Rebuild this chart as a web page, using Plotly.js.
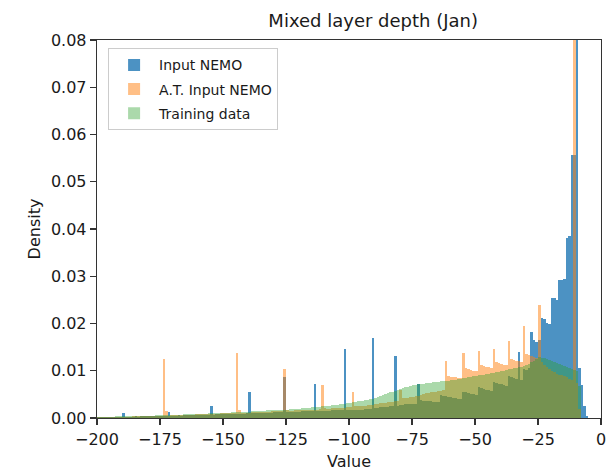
<!DOCTYPE html>
<html>
<head>
<meta charset="utf-8">
<script src="https://cdn.plot.ly/plotly-3.0.1.min.js"></script>
<style>
  html, body { margin: 0; padding: 0; background: #fff; }
  #chart { width: 606px; height: 473px; }
</style>
</head>
<body>
<div id="chart"></div>
<script>
// Histogram bins: width 1, left edges from -200 up to -1
const binStart = -200;
const binWidth = 1;

const seriesNames = ["Input NEMO", "A.T. Input NEMO", "Training data"];

// Density per bin, Input NEMO
const inputNemo = [
  0.0002,0.0002,0.0002,0.0002,0.0003,0.0002,0.0003,0.0003,0.0003,0.0003,
  0.0010,0.0003,0.0003,0.0003,0.0003,0.0004,0.0003,0.0004,0.0004,0.0004,
  0.0004,0.0004,0.0004,0.0005,0.0004,0.0005,0.0005,0.0005,0.0013,0.0005,
  0.0005,0.0005,0.0006,0.0005,0.0006,0.0006,0.0006,0.0006,0.0006,0.0007,
  0.0007,0.0007,0.0007,0.0007,0.0007,0.0025,0.0007,0.0008,0.0008,0.0008,
  0.0008,0.0008,0.0008,0.0009,0.0009,0.0009,0.0009,0.0009,0.0009,0.0010,
  0.0054,0.0010,0.0010,0.0010,0.0010,0.0011,0.0011,0.0011,0.0011,0.0011,
  0.0012,0.0012,0.0012,0.0012,0.0087,0.0012,0.0013,0.0013,0.0013,0.0013,
  0.0013,0.0014,0.0014,0.0014,0.0014,0.0014,0.0071,0.0014,0.0015,0.0015,
  0.0015,0.0015,0.0015,0.0016,0.0016,0.0016,0.0016,0.0016,0.0147,0.0017,
  0.0017,0.0017,0.0018,0.0018,0.0018,0.0018,0.0019,0.0019,0.0019,0.0169,
  0.0022,0.0022,0.0023,0.0023,0.0024,0.0024,0.0025,0.0025,0.0132,0.0026,
  0.0028,0.0028,0.0029,0.0029,0.0030,0.0030,0.0030,0.0073,0.0038,0.0037,
  0.0036,0.0036,0.0035,0.0034,0.0034,0.0033,0.0048,0.0047,0.0046,0.0045,
  0.0044,0.0043,0.0042,0.0041,0.0040,0.0056,0.0054,0.0052,0.0051,0.0050,
  0.0049,0.0066,0.0064,0.0062,0.0060,0.0059,0.0058,0.0077,0.0075,0.0073,
  0.0071,0.0070,0.0068,0.0088,0.0086,0.0084,0.0082,0.0140,0.0080,0.0103,
  0.0102,0.0105,0.0183,0.0165,0.0160,0.0165,0.0212,0.0210,0.0201,0.0200,
  0.0254,0.0254,0.0250,0.0292,0.0292,0.0295,0.0380,0.0385,0.0557,0.0557,
  0.1000,0.0106,0.0070,0.0025,0.0004,0,0,0,0,0
];

// Density per bin, A.T. Input NEMO
const atInputNemo = [
  0.0002,0.0002,0.0002,0.0002,0.0002,0.0003,0.0003,0.0003,0.0003,0.0003,
  0.0003,0.0003,0.0003,0.0003,0.0004,0.0004,0.0004,0.0004,0.0004,0.0004,
  0.0004,0.0005,0.0005,0.0005,0.0005,0.0005,0.0125,0.0015,0.0005,0.0006,
  0.0006,0.0006,0.0006,0.0006,0.0007,0.0007,0.0007,0.0007,0.0007,0.0008,
  0.0008,0.0008,0.0008,0.0008,0.0009,0.0009,0.0009,0.0009,0.0009,0.0010,
  0.0010,0.0010,0.0010,0.0010,0.0010,0.0137,0.0018,0.0011,0.0011,0.0011,
  0.0011,0.0012,0.0012,0.0012,0.0012,0.0013,0.0013,0.0013,0.0013,0.0014,
  0.0014,0.0014,0.0014,0.0015,0.0103,0.0016,0.0015,0.0015,0.0016,0.0016,
  0.0016,0.0017,0.0017,0.0017,0.0018,0.0018,0.0018,0.0018,0.0019,0.0070,
  0.0021,0.0020,0.0020,0.0021,0.0021,0.0021,0.0022,0.0022,0.0022,0.0023,
  0.0023,0.0056,0.0026,0.0025,0.0025,0.0026,0.0026,0.0027,0.0027,0.0028,
  0.0030,0.0030,0.0031,0.0032,0.0032,0.0033,0.0034,0.0034,0.0035,0.0036,
  0.0059,0.0042,0.0042,0.0043,0.0044,0.0045,0.0046,0.0047,0.0049,0.0050,
  0.0052,0.0053,0.0054,0.0055,0.0056,0.0057,0.0058,0.0060,0.0121,0.0088,
  0.0087,0.0086,0.0086,0.0085,0.0084,0.0138,0.0105,0.0103,0.0102,0.0100,
  0.0099,0.0142,0.0112,0.0110,0.0108,0.0107,0.0106,0.0146,0.0118,0.0116,
  0.0114,0.0113,0.0112,0.0164,0.0125,0.0123,0.0121,0.0120,0.0119,0.0195,
  0.0135,0.0133,0.0131,0.0130,0.0128,0.0239,0.0118,0.0112,0.0108,0.0104,
  0.0100,0.0097,0.0094,0.0092,0.0090,0.0088,0.0086,0.0083,0.0080,0.0950,
  0.0075,0.0020,0,0,0,0,0,0,0,0
];

// Density per bin, Training data
const trainingData = [
  0.0003,0.0003,0.0003,0.0003,0.0003,0.0003,0.0003,0.0004,0.0004,0.0004,
  0.0004,0.0004,0.0004,0.0004,0.0004,0.0005,0.0005,0.0005,0.0005,0.0005,
  0.0005,0.0005,0.0005,0.0006,0.0006,0.0006,0.0006,0.0006,0.0006,0.0007,
  0.0007,0.0007,0.0007,0.0007,0.0008,0.0008,0.0008,0.0008,0.0008,0.0009,
  0.0009,0.0009,0.0009,0.0009,0.0010,0.0010,0.0010,0.0010,0.0010,0.0011,
  0.0011,0.0011,0.0011,0.0012,0.0012,0.0012,0.0012,0.0013,0.0013,0.0013,
  0.0013,0.0014,0.0014,0.0014,0.0015,0.0015,0.0015,0.0016,0.0016,0.0016,
  0.0017,0.0017,0.0017,0.0018,0.0018,0.0018,0.0019,0.0019,0.0019,0.0020,
  0.0020,0.0021,0.0021,0.0022,0.0022,0.0023,0.0023,0.0024,0.0024,0.0025,
  0.0025,0.0026,0.0026,0.0027,0.0027,0.0028,0.0029,0.0029,0.0030,0.0031,
  0.0032,0.0033,0.0034,0.0035,0.0036,0.0037,0.0038,0.0039,0.0040,0.0041,
  0.0043,0.0045,0.0047,0.0049,0.0050,0.0052,0.0054,0.0056,0.0058,0.0060,
  0.0062,0.0063,0.0065,0.0066,0.0068,0.0069,0.0070,0.0071,0.0072,0.0073,
  0.0074,0.0075,0.0075,0.0076,0.0077,0.0077,0.0078,0.0078,0.0079,0.0079,
  0.0080,0.0081,0.0081,0.0082,0.0083,0.0084,0.0085,0.0086,0.0087,0.0088,
  0.0089,0.0090,0.0091,0.0092,0.0093,0.0094,0.0095,0.0096,0.0097,0.0098,
  0.0099,0.0100,0.0101,0.0103,0.0104,0.0105,0.0106,0.0108,0.0109,0.0111,
  0.0113,0.0115,0.0118,0.0121,0.0125,0.0130,0.0128,0.0126,0.0124,0.0122,
  0.0120,0.0118,0.0116,0.0114,0.0112,0.0110,0.0108,0.0106,0.0104,0.0102,
  0.0099,0.0068,0,0,0,0,0,0,0,0
];

const xTicks = [-200, -175, -150, -125, -100, -75, -50, -25, 0];
const yTicks = [0, 0.01, 0.02, 0.03, 0.04, 0.05, 0.06, 0.07, 0.08];

const fills = ["rgba(31,119,180,0.8)", "rgba(255,127,14,0.5)", "rgba(44,160,44,0.4)"];

function binCenters(values) {
  return values.map((_, i) => binStart + (i + 0.5) * binWidth);
}

const traces = [inputNemo, atInputNemo, trainingData].map((vals, k) => ({
  type: "bar",
  name: seriesNames[k],
  legendgroup: "g" + k,
  x: binCenters(vals),
  y: vals,
  width: binWidth,
  marker: { color: fills[k], line: { width: 0 } },
  hoverinfo: "x+y+name"
}));

const font = "DejaVu Sans, Liberation Sans, sans-serif";
const ink = "#1a1a1a";

const layout = {
  width: 606,
  height: 473,
  margin: { l: 97, r: 5, t: 40, b: 55 },
  paper_bgcolor: "#ffffff",
  plot_bgcolor: "#ffffff",
  barmode: "overlay",
  bargap: 0,
  font: { family: font, size: 16, color: ink },
  title: {
    text: "Mixed layer depth (Jan)",
    font: { family: font, size: 18, color: ink },
    x: 0.548, xref: "paper", xanchor: "center",
    y: 0.957, yref: "container", yanchor: "middle"
  },
  xaxis: {
    range: [-200, 0],
    tickvals: xTicks,
    ticks: "outside", ticklen: 6, tickwidth: 1.2, tickcolor: "#333",
    ticklabeloverflow: "allow",
    showline: true, mirror: true, linecolor: "#333", linewidth: 1.3,
    showgrid: false, zeroline: false,
    tickfont: { family: font, size: 16, color: ink },
    title: { text: "Value", font: { family: font, size: 16, color: ink }, standoff: 8 }
  },
  yaxis: {
    range: [0, 0.08],
    tickvals: yTicks,
    tickformat: ".2f",
    ticks: "outside", ticklen: 6, tickwidth: 1.2, tickcolor: "#333",
    showline: true, mirror: true, linecolor: "#333", linewidth: 1.3,
    showgrid: false, zeroline: false,
    tickfont: { family: font, size: 16, color: ink },
    title: { text: "Density", font: { family: font, size: 16, color: ink }, standoff: 6 }
  },
  legend: {
    x: 0.022, y: 0.978, xanchor: "left", yanchor: "top",
    bgcolor: "rgba(255,255,255,0.8)",
    bordercolor: "#cccccc", borderwidth: 1,
    font: { family: font, size: 14, color: ink },
    itemwidth: 40,
    tracegroupgap: 3
  },
  showlegend: true
};

Plotly.newPlot("chart", traces, layout, { displayModeBar: false, staticPlot: true });
</script>
</body>
</html>
